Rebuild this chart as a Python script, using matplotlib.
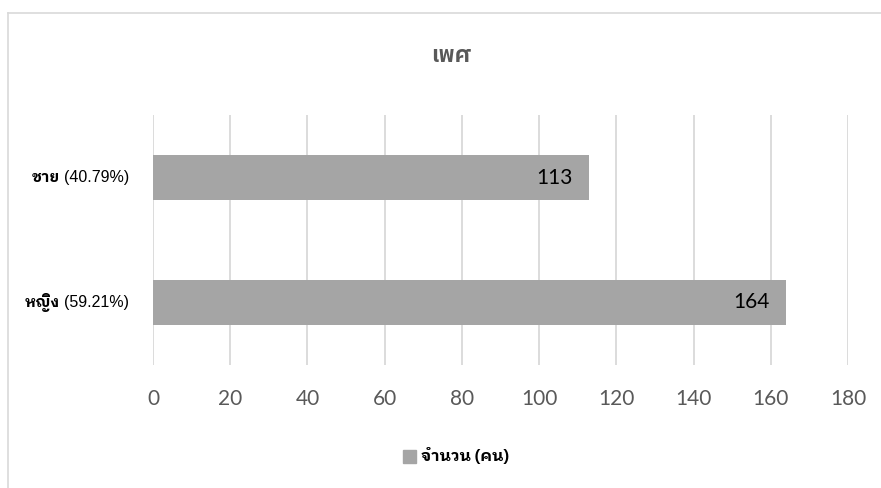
import matplotlib
matplotlib.use("Agg")
import matplotlib.pyplot as plt
import matplotlib.transforms as mtransforms

categories = ["หญิง (59.21%)", "ชาย (40.79%)"]
values = [164, 113]
xticks = [0, 20, 40, 60, 80, 100, 120, 140, 160, 180]
title = "เพศ"
legend_label = "จำนวน (คน)"

THAI_LOOPED = ["IBM Plex Sans Thai Looped", "DejaVu Sans"]
THAI_PLAIN = ["IBM Plex Sans Thai", "DejaVu Sans"]
LATIN = ["Liberation Sans", "DejaVu Sans"]
NUM = ["Lato", "DejaVu Sans"]

W, H = 881, 488
fig = plt.figure(figsize=(W/100, H/100), dpi=100)
ax = fig.add_axes([153/W, 1-365/H, (848-153)/W, 250/H])

ypos = list(range(len(categories)))
bars = ax.barh(ypos, values, height=0.36, color="#A5A5A5", zorder=3)
ax.set_xlim(0, 180)
ax.set_ylim(-0.5, 1.5)
ax.set_xticks(xticks)
ax.set_xticklabels([str(t) for t in xticks], fontsize=15, color="#595959", family=NUM)
ax.set_yticks([])
ax.tick_params(axis="both", length=0)
ax.tick_params(axis="x", pad=17)
ax.grid(axis="x", color="#D9D9D9", linewidth=1.3, zorder=0)
for s in ax.spines.values():
    s.set_visible(False)

# value labels inside bar ends
for b, v in zip(bars, values):
    ax.annotate(str(v), xy=(b.get_width(), b.get_y() + b.get_height()/2),
                xytext=(-12, 0), textcoords="offset points",
                ha="right", va="center", fontsize=15, color="black",
                family=NUM, zorder=4)

# category labels: bold Thai word + regular Latin percentage
fig.canvas.draw()
renderer = fig.canvas.get_renderer()
trans = mtransforms.blended_transform_factory(fig.transFigure, ax.transData)
x_right = 129/W
for y, cat in zip(ypos, categories):
    word, pct = cat.split(" ", 1)
    t2 = fig.text(x_right, y, pct, transform=trans, ha="right", va="center",
                  fontsize=11.5, color="black", family=LATIN)
    bb = t2.get_window_extent(renderer)
    x_word = (bb.x0 - 4) / fig.bbox.width
    fig.text(x_word, y, word, transform=trans, ha="right", va="center",
             fontsize=11, fontweight="bold", color="black", family=THAI_LOOPED)

fig.text(451/W, 1-56/H, title, ha="center", va="center", fontsize=16,
         fontweight="bold", color="#595959", family=THAI_PLAIN)

# legend
fig.patches.append(plt.Rectangle((403/W, 1-463/H), 13/W, 13/H,
                                 transform=fig.transFigure, color="#A5A5A5"))
fig.text(421/W, 1-456/H, legend_label, ha="left", va="center", fontsize=11.5,
         fontweight="bold", color="#000000", family=THAI_LOOPED)

# outer chart border (top and left)
fig.add_artist(plt.Line2D([8/W, 1], [1-13/H, 1-13/H], color="#D9D9D9", lw=1.2))
fig.add_artist(plt.Line2D([8/W, 8/W], [0, 1-13/H], color="#D9D9D9", lw=1.2))

fig.savefig("out.png", dpi=100, facecolor="white")
